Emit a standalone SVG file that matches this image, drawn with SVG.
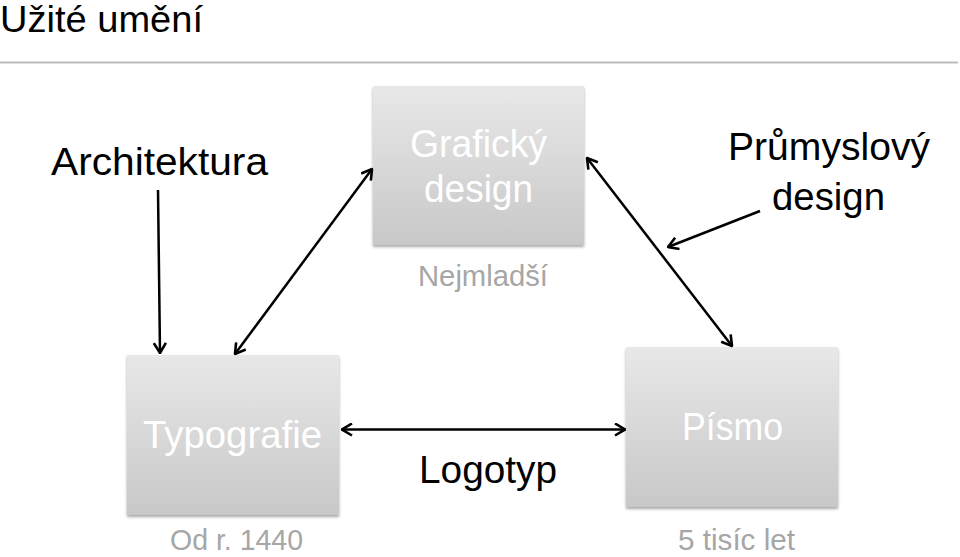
<svg xmlns="http://www.w3.org/2000/svg" width="960" height="557" viewBox="0 0 960 557">
<style>
text{font-family:"Liberation Sans","Open Sans",Arial,sans-serif;}
.dark{fill:#000;font-size:38px;}
.white{fill:#fff;font-size:38px;}
.gray{fill:#a6a6a6;font-size:29px;}
.box{fill:url(#g);filter:url(#sh);}
.con{stroke:#000;stroke-width:2.5;fill:none;}
</style>
<defs>
<linearGradient id="g" x1="0" y1="0" x2="0" y2="1">
<stop offset="0" stop-color="#e8e8e8"/>
<stop offset="1" stop-color="#c8c8c8"/>
</linearGradient>
<filter id="sh" x="-10%" y="-10%" width="120%" height="125%">
<feGaussianBlur in="SourceAlpha" stdDeviation="1.5"/>
<feOffset dy="1.5" result="b"/>
<feComponentTransfer><feFuncA type="linear" slope="0.35"/></feComponentTransfer>
<feMerge><feMergeNode/><feMergeNode in="SourceGraphic"/></feMerge>
</filter>
<marker id="ah" viewBox="0 0 12 14" refX="11" refY="7" markerWidth="12" markerHeight="14" markerUnits="userSpaceOnUse" orient="auto-start-reverse">
<polyline points="1,1 11,7 1,13" fill="none" stroke="#000" stroke-width="2.6"/>
</marker>
</defs>
<rect width="960" height="557" fill="#fff"/>
<g id="title">
<text x="0" y="32" style="font-size:36px" fill="#000" textLength="203" lengthAdjust="spacingAndGlyphs">Užité umění</text>
<line x1="0" y1="62.5" x2="958" y2="62.5" stroke="#bcbcbc" stroke-width="1.8"/>
</g>
<g id="grafdesign">
<rect class="box" x="373" y="86" width="211" height="159"/>
<text class="white" x="478.5" y="157" text-anchor="middle" textLength="137" lengthAdjust="spacingAndGlyphs">Grafický</text>
<text class="white" x="478.5" y="202" text-anchor="middle" textLength="109" lengthAdjust="spacingAndGlyphs">design</text>
<text class="gray" x="483" y="286" text-anchor="middle" textLength="130" lengthAdjust="spacingAndGlyphs">Nejmladší</text>
</g>
<g id="typografie">
<rect class="box" x="127" y="355" width="212" height="160"/>
<text class="white" x="232.5" y="448" text-anchor="middle" textLength="179" lengthAdjust="spacingAndGlyphs">Typografie</text>
<text class="gray" x="236.5" y="550" text-anchor="middle" textLength="133" lengthAdjust="spacingAndGlyphs">Od r. 1440</text>
</g>
<g id="pismo">
<rect class="box" x="626" y="347" width="212" height="160"/>
<text class="white" x="732.5" y="440" text-anchor="middle" textLength="101" lengthAdjust="spacingAndGlyphs">Písmo</text>
<text class="gray" x="736.5" y="550" text-anchor="middle" textLength="117" lengthAdjust="spacingAndGlyphs">5 tisíc let</text>
</g>
<g id="architektura">
<text class="dark" x="159.5" y="175" text-anchor="middle" textLength="217" lengthAdjust="spacingAndGlyphs">Architektura</text>
</g>
<g id="prumyslovy">
<text class="dark" x="829" y="160" text-anchor="middle" textLength="202" lengthAdjust="spacingAndGlyphs">Průmyslový</text>
<text class="dark" x="828.5" y="210" text-anchor="middle" textLength="113" lengthAdjust="spacingAndGlyphs">design</text>
</g>
<g id="logotyp">
<text class="dark" x="488" y="483" text-anchor="middle" textLength="138" lengthAdjust="spacingAndGlyphs">Logotyp</text>
</g>
<g id="connectors">
<line class="con" x1="158" y1="190" x2="160" y2="353" marker-end="url(#ah)"/>
<line class="con" x1="235" y1="354" x2="372" y2="169" marker-start="url(#ah)" marker-end="url(#ah)"/>
<line class="con" x1="587" y1="158" x2="732" y2="346" marker-start="url(#ah)" marker-end="url(#ah)"/>
<line class="con" x1="760" y1="211" x2="668" y2="247" marker-end="url(#ah)"/>
<line class="con" x1="342" y1="429.5" x2="625" y2="429.5" marker-start="url(#ah)" marker-end="url(#ah)"/>
</g>
</svg>
